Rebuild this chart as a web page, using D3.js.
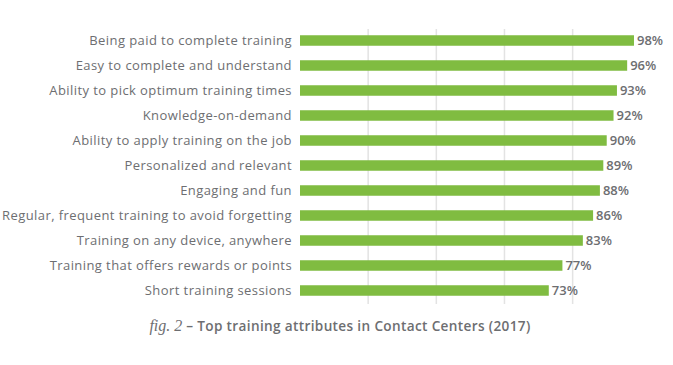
<!DOCTYPE html>
<html><head><meta charset="utf-8">
<script src="https://cdn.jsdelivr.net/npm/d3@7"></script>
<style>body{margin:0;background:#fff}svg{display:block}</style>
</head><body>
<svg id="c" width="673" height="365"></svg>
<script>
const categories = [
  "Being paid to complete training",
  "Easy to complete and understand",
  "Ability to pick optimum training times",
  "Knowledge-on-demand",
  "Ability to apply training on the job",
  "Personalized and relevant",
  "Engaging and fun",
  "Regular, frequent training to avoid forgetting",
  "Training on any device, anywhere",
  "Training that offers rewards or points",
  "Short training sessions"
];
const values = [98, 96, 93, 92, 90, 89, 88, 86, 83, 77, 73];
const gridTicks = [20, 40, 60, 80];
const captionPrefix = "fig. 2";
const captionText = " – Top training attributes in Contact Centers (2017)";

const svg = d3.select("#c");
const x = d3.scaleLinear().domain([0, 100]).range([300, 640.8]);
const y = d3.scaleBand().domain(categories).range([28, 303]).paddingInner(0.58).paddingOuter(0.29);

svg.append("g").selectAll("line").data(gridTicks).join("line")
  .attr("x1", d => x(d)).attr("x2", d => x(d))
  .attr("y1", 29).attr("y2", 304)
  .attr("stroke", "#e3e3e3").attr("stroke-width", 1.5);

svg.append("g").selectAll("rect").data(values).join("rect")
  .attr("x", x(0)).attr("y", (d, i) => y(categories[i]))
  .attr("width", d => x(d) - x(0)).attr("height", y.bandwidth())
  .attr("fill", "#80bc41");

const font = "'Open Sans', sans-serif";
svg.append("g").selectAll("text").data(categories).join("text")
  .attr("x", 292).attr("y", d => y(d) + y.bandwidth() / 2)
  .attr("dy", "0.35em").attr("text-anchor", "end")
  .attr("font-family", font).attr("font-size", 13).attr("letter-spacing", 0.42).attr("fill", "#6d6e71")
  .text(d => d);

svg.append("g").selectAll("text").data(values).join("text")
  .attr("x", d => x(d) + 3).attr("y", (d, i) => y(categories[i]) + y.bandwidth() / 2)
  .attr("dy", "0.35em").attr("text-anchor", "start")
  .attr("font-family", font).attr("font-size", 13).attr("font-weight", 600).attr("fill", "#6d6e71")
  .text(d => d + "%");

const cap = svg.append("text").attr("x", 340).attr("y", 331).attr("text-anchor", "middle")
  .attr("fill", "#6d6e71");
cap.append("tspan").attr("font-family", "'Liberation Serif', serif").attr("font-style", "italic")
  .attr("font-size", 16).text(captionPrefix);
cap.append("tspan").attr("font-family", font).attr("font-weight", 600).attr("font-size", 13.6)
  .attr("letter-spacing", 0.35).text(captionText);
</script>
</body></html>
